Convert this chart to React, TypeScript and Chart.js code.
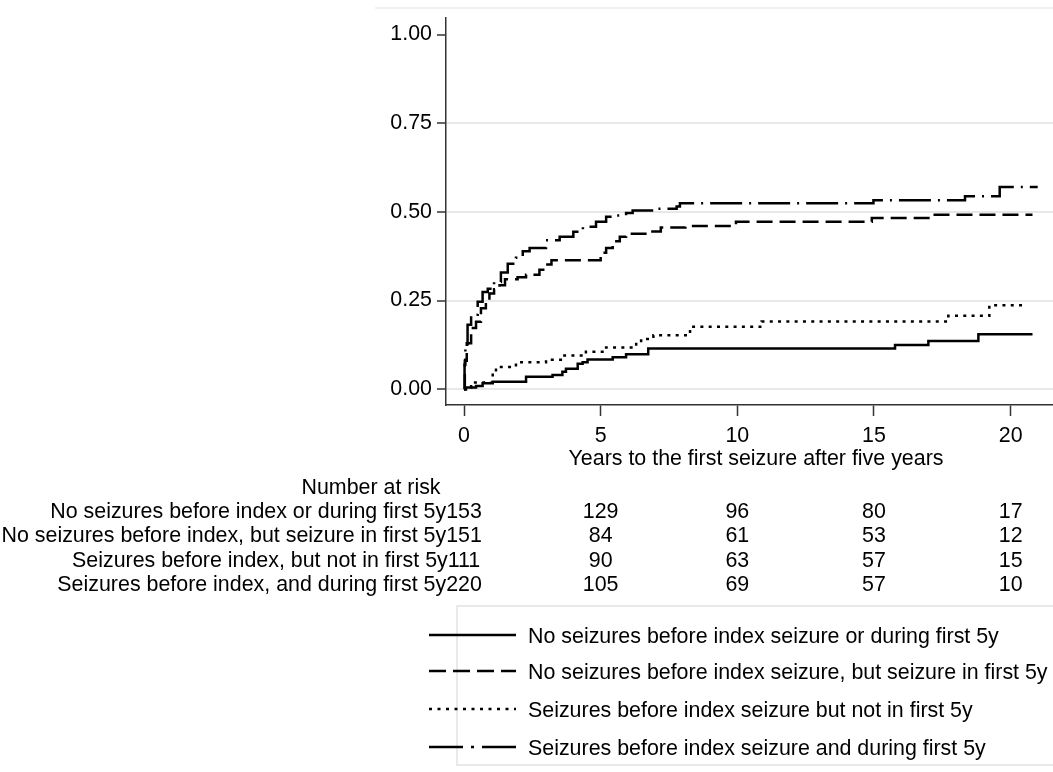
import React, { useEffect, useRef } from "react";
import { Chart, registerables } from "chart.js";

Chart.register(...registerables);

// ---- data ----
const seriesLabels = [
  "No seizures before index seizure or during first 5y",
  "No seizures before index seizure, but seizure in first 5y",
  "Seizures before index seizure but not in first 5y",
  "Seizures before index seizure and during first 5y",
];

const s1Times = [0, 0.07, 0.44, 0.68, 1.05, 2.27, 3.24, 3.6, 3.73, 4.16, 4.34, 4.52, 5.44, 5.93, 6.74, 15.77, 16.99, 18.82, 20.8];
const s1Values = [0, 0.005, 0.009, 0.017, 0.021, 0.035, 0.04, 0.049, 0.058, 0.072, 0.076, 0.084, 0.09, 0.099, 0.115, 0.125, 0.136, 0.155, 0.155];

const s2Times = [0, 0.03, 0.1, 0.26, 0.44, 0.62, 0.8, 0.93, 1.1, 1.3, 1.5, 1.96, 2.27, 2.76, 3.0, 3.2, 5.0, 5.2, 5.44, 5.7, 5.93, 6.8, 7.2, 8.1, 9.95, 14.92, 17.05, 20.8];
const s2Values = [0, 0.08, 0.13, 0.173, 0.19, 0.228, 0.25, 0.27, 0.282, 0.293, 0.31, 0.316, 0.323, 0.337, 0.352, 0.364, 0.385, 0.398, 0.417, 0.43, 0.438, 0.445, 0.456, 0.46, 0.472, 0.483, 0.492, 0.492];

const s3Times = [0, 0.07, 0.26, 1.05, 1.17, 1.9, 3.0, 3.6, 4.46, 5.2, 6.3, 6.48, 6.93, 8.27, 10.89, 17.72, 19.22, 20.59];
const s3Values = [0, 0.005, 0.019, 0.049, 0.063, 0.076, 0.083, 0.095, 0.106, 0.118, 0.132, 0.142, 0.152, 0.176, 0.191, 0.207, 0.237, 0.237];

const s4Times = [0, 0.02, 0.05, 0.13, 0.26, 0.5, 0.68, 0.87, 1.1, 1.35, 1.6, 1.9, 2.15, 2.4, 3.0, 3.5, 4.0, 4.35, 4.83, 5.2, 5.5, 5.93, 6.17, 7.0, 7.78, 7.9, 14.98, 18.33, 19.6, 20.99];
const s4Values = [0, 0.07, 0.127, 0.182, 0.21, 0.247, 0.274, 0.283, 0.302, 0.329, 0.354, 0.371, 0.389, 0.398, 0.42, 0.43, 0.444, 0.458, 0.472, 0.486, 0.49, 0.497, 0.504, 0.509, 0.515, 0.524, 0.533, 0.544, 0.57, 0.57];

const xTicks = [0, 5, 10, 15, 20];
const yTicks = [0, 0.25, 0.5, 0.75, 1];

const xAxisTitle = "Years to the first seizure after five years";
const riskTitle = "Number at risk";
const riskLabels = [
  "No seizures before index or during first 5y",
  "No seizures before index, but seizure in first 5y",
  "Seizures before index, but not in first 5y",
  "Seizures before index, and during first 5y",
];
const riskTimes = [0, 5, 10, 15, 20];
const riskRow1 = [153, 129, 96, 80, 17];
const riskRow2 = [151, 84, 61, 53, 12];
const riskRow3 = [111, 90, 63, 57, 15];
const riskRow4 = [220, 105, 69, 57, 10];

// ---- styles ----
const FONT = "'Liberation Sans', Arial, Helvetica, sans-serif";
const FS = 21.4;
const dashes: number[][] = [[], [16, 7], [3, 5.3], [32, 7, 2, 7]];
const legendDashes: number[][] = [[], [17, 7], [3, 5.5], [34, 8, 3, 8]];

function toPoints(t: number[], v: number[]) {
  return t.map((x, i) => ({ x, y: v[i] }));
}

const overlayPlugin = {
  id: "overlay",
  afterDraw(chart: any) {
    const ctx: CanvasRenderingContext2D = chart.ctx;
    const xs = chart.scales.x;
    ctx.save();
    // faint top border line
    ctx.strokeStyle = "#ececec";
    ctx.lineWidth = 1.5;
    ctx.beginPath();
    ctx.moveTo(375, 8);
    ctx.lineTo(1053, 8);
    ctx.stroke();

    ctx.fillStyle = "#000";
    ctx.font = `${FS}px ${FONT}`;
    ctx.textBaseline = "alphabetic";

    // axis title
    ctx.textAlign = "center";
    ctx.fillText(xAxisTitle, 756, 464.5);

    // risk table
    ctx.fillText(riskTitle, 371, 494);
    const rows = [riskRow1, riskRow2, riskRow3, riskRow4];
    const rowBase = [517.5, 542, 566.5, 591];
    rows.forEach((row, r) => {
      const y = rowBase[r];
      row.forEach((n, j) => {
        const px = xs.getPixelForValue(riskTimes[j]);
        ctx.textAlign = "center";
        ctx.fillText(String(n), px, y);
        if (j === 0) {
          const w = ctx.measureText(String(n)).width;
          ctx.textAlign = "right";
          ctx.fillText(riskLabels[r], px - w / 2, y);
        }
      });
    });

    // legend
    ctx.strokeStyle = "#e2e2e2";
    ctx.lineWidth = 1.5;
    ctx.setLineDash([]);
    ctx.strokeRect(457, 606, 620, 159);
    const legendCenters = [635, 671, 709, 747];
    seriesLabels.forEach((lab, i) => {
      const y = legendCenters[i];
      ctx.strokeStyle = "#000";
      ctx.lineWidth = 2.5;
      ctx.setLineDash(legendDashes[i]);
      ctx.beginPath();
      ctx.moveTo(429, y);
      ctx.lineTo(516, y);
      ctx.stroke();
      ctx.setLineDash([]);
      ctx.textAlign = "left";
      ctx.fillStyle = "#000";
      ctx.fillText(lab, 528, y + 7.5);
    });
    ctx.restore();
  },
};

export default function App() {
  const ref = useRef<HTMLCanvasElement | null>(null);
  useEffect(() => {
    if (!ref.current) return;
    const all = [
      toPoints(s1Times, s1Values),
      toPoints(s2Times, s2Values),
      toPoints(s3Times, s3Values),
      toPoints(s4Times, s4Values),
    ];
    const chart = new Chart(ref.current, {
      type: "line",
      data: {
        datasets: all.map((d, i) => ({
          label: seriesLabels[i],
          data: d,
          borderColor: "#000",
          borderWidth: 2.5,
          borderDash: dashes[i],
          borderCapStyle: "butt",
          pointRadius: 0,
          stepped: true,
          fill: false,
        })),
      },
      options: {
        responsive: false,
        animation: false,
        events: [],
        layout: { padding: { top: 12, right: 0, left: 0, bottom: 0 } },
        plugins: { legend: { display: false }, tooltip: { enabled: false }, title: { display: false } },
        scales: {
          x: {
            type: "linear",
            min: -0.659,
            max: 21.55,
            afterBuildTicks: (s: any) => {
              s.ticks = xTicks.map((v) => ({ value: v }));
            },
            afterFit: (s: any) => {
              s.height = 367;
            },
            grid: { drawOnChartArea: false, drawTicks: true, tickLength: 11, tickColor: "#333", tickWidth: 1.5 },
            border: { display: true, color: "#333", width: 1.5 },
            ticks: {
              font: { family: FONT, size: FS },
              color: "#000",
              padding: 7,
              maxRotation: 0,
              autoSkip: false,
              callback: (v: any) => String(v),
            },
          },
          y: {
            type: "linear",
            min: -0.0444,
            max: 1.047,
            afterBuildTicks: (s: any) => {
              s.ticks = yTicks.map((v) => ({ value: v }));
            },
            afterFit: (s: any) => {
              s.width = 446;
            },
            grid: {
              color: (c: any) => (c.tick && c.tick.value === 1 ? "rgba(0,0,0,0)" : "#e8e8e8"),
              lineWidth: 2,
              tickLength: 9,
              tickColor: "#333",
              tickWidth: 1.5,
            },
            border: { display: true, color: "#333", width: 1.5 },
            ticks: {
              font: { family: FONT, size: FS },
              color: "#000",
              padding: 5,
              autoSkip: false,
              callback: (v: any) => Number(v).toFixed(2),
            },
          },
        },
      },
      plugins: [overlayPlugin],
    } as any);
    return () => chart.destroy();
  }, []);
  return (
    <div style={{ position: "absolute", left: 0, top: 0, width: 1053, height: 772, background: "#fff" }}>
      <canvas ref={ref} width={1053} height={772} style={{ display: "block", width: 1053, height: 772 }} />
    </div>
  );
}
